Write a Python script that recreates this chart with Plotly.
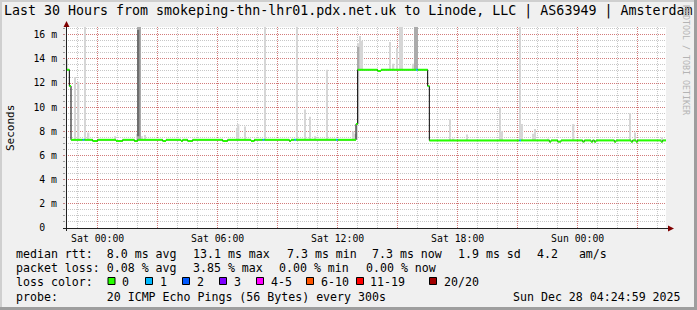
import plotly.graph_objects as go
from datetime import datetime, timedelta

FMT = "%Y-%m-%d %H:%M"
START = "2025-12-26 22:25"
END = "2025-12-28 04:25"
STEP_MIN = 5

# ---- median RTT (ms): each value holds from its time until the next entry
MEDIAN_TIME = [
    "2025-12-26 22:25", "2025-12-26 22:35", "2025-12-26 22:40", "2025-12-26 23:45",
    "2025-12-27 00:00", "2025-12-27 00:55", "2025-12-27 01:15", "2025-12-27 01:50",
    "2025-12-27 02:00", "2025-12-27 03:15", "2025-12-27 03:25", "2025-12-27 04:10",
    "2025-12-27 04:15", "2025-12-27 04:30", "2025-12-27 04:45", "2025-12-27 06:15",
    "2025-12-27 06:30", "2025-12-27 07:40", "2025-12-27 07:50", "2025-12-27 09:35",
    "2025-12-27 09:40", "2025-12-27 12:55", "2025-12-27 13:00", "2025-12-27 14:00",
    "2025-12-27 14:10", "2025-12-27 16:30", "2025-12-27 16:35", "2025-12-27 22:35",
    "2025-12-27 22:40", "2025-12-27 23:00", "2025-12-27 23:10", "2025-12-28 00:15",
    "2025-12-28 00:20", "2025-12-28 00:40", "2025-12-28 00:45", "2025-12-28 00:50",
    "2025-12-28 00:55", "2025-12-28 01:50", "2025-12-28 01:55", "2025-12-28 02:40",
    "2025-12-28 02:45", "2025-12-28 02:55", "2025-12-28 03:00", "2025-12-28 04:10",
    "2025-12-28 04:15",
]
MEDIAN_MS = [
    13.1, 11.75, 7.3, 7.2,
    7.3, 7.2, 7.3, 7.2,
    7.3, 7.2, 7.3, 7.2,
    7.3, 7.2, 7.3, 7.2,
    7.3, 7.2, 7.3, 7.2,
    7.3, 8.6, 13.1, 13.0,
    13.1, 11.75, 7.25, 7.15,
    7.25, 7.15, 7.25, 7.15,
    7.25, 7.15, 7.25, 7.15,
    7.25, 7.15, 7.25, 7.15,
    7.25, 7.15, 7.25, 7.15,
    7.25,
]

# ---- intervals with 1 of 20 pings lost
LOSS1_TIME = ["2025-12-26 23:15", "2025-12-27 08:15", "2025-12-27 09:50",
              "2025-12-27 11:55", "2025-12-27 15:55", "2025-12-27 21:05"]

# ---- smoke (ping spread) per interval
SMOKE_TIME = [
    "2025-12-26 22:25", "2025-12-26 22:50", "2025-12-26 23:00", "2025-12-26 23:20",
    "2025-12-26 23:30", "2025-12-27 00:50", "2025-12-27 01:55", "2025-12-27 02:00",
    "2025-12-27 02:00", "2025-12-27 02:05", "2025-12-27 02:10", "2025-12-27 02:20",
    "2025-12-27 06:55", "2025-12-27 07:00", "2025-12-27 07:20", "2025-12-27 08:20",
    "2025-12-27 09:55", "2025-12-27 10:20", "2025-12-27 10:35", "2025-12-27 10:50",
    "2025-12-27 11:25", "2025-12-27 12:45", "2025-12-27 12:50", "2025-12-27 12:55",
    "2025-12-27 13:00", "2025-12-27 13:00", "2025-12-27 13:05", "2025-12-27 13:10",
    "2025-12-27 14:35", "2025-12-27 14:45", "2025-12-27 14:55", "2025-12-27 15:05",
    "2025-12-27 15:10", "2025-12-27 15:45", "2025-12-27 15:50", "2025-12-27 15:55",
    "2025-12-27 17:35", "2025-12-27 17:45", "2025-12-27 18:25", "2025-12-27 20:05",
    "2025-12-27 20:10", "2025-12-27 21:05", "2025-12-27 21:10", "2025-12-27 21:45",
    "2025-12-27 21:50", "2025-12-27 22:30", "2025-12-27 23:45", "2025-12-28 02:35",
    "2025-12-28 02:50", "2025-12-28 04:10",
]
SMOKE_LOW = [
    13.1, 7.3, 7.3, 7.3,
    7.3, 7.3, 7.3, 7.3,
    7.6, 7.3, 7.3, 7.3,
    7.3, 7.3, 7.3, 7.3,
    7.3, 7.3, 7.3, 7.3,
    7.3, 7.3, 7.3, 7.3,
    8.6, 13.1, 13.1, 13.1,
    13.1, 13.1, 13.1, 13.1,
    13.1, 13.1, 13.1, 13.1,
    7.25, 7.25, 7.25, 7.25,
    7.25, 7.25, 7.25, 7.25,
    7.25, 7.25, 7.25, 7.25,
    7.25, 7.25,
]
SMOKE_HIGH = [
    14.0, 12.5, 12.1, 17.0,
    7.9, 7.6, 7.8, 17.0,
    16.4, 17.0, 7.6, 7.7,
    8.3, 8.6, 8.4, 17.0,
    17.0, 9.8, 9.2, 7.6,
    13.1, 8.0, 7.8, 8.6,
    15.3, 15.0, 15.9, 15.5,
    15.4, 13.6, 14.9, 17.0,
    17.0, 13.6, 17.0, 17.0,
    9.0, 7.4, 7.75, 10.0,
    8.0, 17.0, 8.6, 7.8,
    8.2, 7.4, 8.6, 9.5,
    7.9, 7.5,
]
SMOKE_SHADE = [
    "L", "L", "L", "L",
    "L", "L", "L", "M",
    "D", "M", "L", "L",
    "L", "L", "L", "L",
    "L", "L", "L", "L",
    "L", "L", "L", "L",
    "L", "M", "L", "L",
    "L", "L", "L", "L",
    "L", "L", "M", "M",
    "L", "L", "L", "L",
    "L", "L", "L", "L",
    "L", "L", "L", "L",
    "L", "L",
]

Y_TICKS = [0, 2, 4, 6, 8, 10, 12, 14, 16]
Y_TICKTEXT = ["0\u00a0\u00a0", "2 m", "4 m", "6 m", "8 m", "10 m", "12 m", "14 m", "16 m"]
X_TICKVALS = ["2025-12-27 00:00", "2025-12-27 03:00", "2025-12-27 06:00", "2025-12-27 09:00",
              "2025-12-27 12:00", "2025-12-27 15:00", "2025-12-27 18:00", "2025-12-27 21:00",
              "2025-12-28 00:00", "2025-12-28 03:00"]
X_TICKTEXT = ["Sat 00:00", "", "Sat 06:00", "", "Sat 12:00", "", "Sat 18:00", "", "Sun 00:00", ""]

TITLE = "Last 30 Hours from smokeping-thn-lhr01.pdx.net.uk to Linode, LLC | AS63949 | Amsterdam"
LOSS_LABELS = ["0", "1", "2", "3", "4-5", "6-10", "11-19", "20/20"]
LOSS_COLORS = ["#26ff00", "#00b8ff", "#0059ff", "#7e00ff", "#ff00ff", "#ff5500", "#ff0000", "#a10000"]

SHADE_COLORS = {"L": "#d6d6d6", "M": "#ababab", "D": "#6e6e6e"}

# ---------------------------------------------------------------------------
W, H = 697, 310
PL, PT, PR, PB = 66, 27, 666, 228
MONO = "DejaVu Sans Mono"


def xp(px):
    return (px - PL) / (PR - PL)


def yp(py):
    return (PB - py) / (PB - PT)


def dt(s):
    return datetime.strptime(s, FMT)


start, end = dt(START), dt(END)
step = timedelta(minutes=STEP_MIN)
med_t = [dt(s) for s in MEDIAN_TIME]
loss1 = set(dt(s) for s in LOSS1_TIME)


def median_at(t):
    v = MEDIAN_MS[0]
    for ti, vi in zip(med_t, MEDIAN_MS):
        if ti <= t:
            v = vi
        else:
            break
    return v


slots = []
t = start
while t < end:
    slots.append(t)
    t += step

# colored horizontal median segments
seg = {LOSS_COLORS[0]: ([], []), LOSS_COLORS[1]: ([], [])}
runs = []
for t in slots:
    v = median_at(t)
    c = LOSS_COLORS[1] if t in loss1 else LOSS_COLORS[0]
    if runs and runs[-1][2] == v and runs[-1][3] == c:
        runs[-1][1] = t + step
    else:
        runs.append([t, t + step, v, c])
for a, b, v, c in runs:
    xs, ys = seg[c]
    xs += [a, b, None]
    ys += [v, v, None]

fig = go.Figure()

# smoke bars
for shade in ["L", "M", "D"]:
    xs, ys, bs = [], [], []
    for s, lo, hi, sh in zip(SMOKE_TIME, SMOKE_LOW, SMOKE_HIGH, SMOKE_SHADE):
        if sh == shade:
            xs.append(dt(s) + step / 2)
            bs.append(lo)
            ys.append(hi - lo)
    fig.add_trace(go.Bar(x=xs, y=ys, base=bs, width=STEP_MIN * 60000,
                         marker=dict(color=SHADE_COLORS[shade], line=dict(width=0)),
                         hoverinfo="skip"))

# black step line (vertical connectors)
fig.add_trace(go.Scatter(x=med_t + [end], y=MEDIAN_MS + [MEDIAN_MS[-1]], mode="lines",
                         line=dict(color="#000000", width=1, shape="hv"), hoverinfo="skip"))
for c in [LOSS_COLORS[0], LOSS_COLORS[1]]:
    xs, ys = seg[c]
    fig.add_trace(go.Scatter(x=xs, y=ys, mode="lines", line=dict(color=c, width=2),
                             connectgaps=False, hoverinfo="skip"))

MGRID = "rgba(222,48,48,0.5)"
GRID = "rgba(143,143,143,0.5)"
DASH = "1px,1px"

fig.update_layout(
    width=W, height=H,
    margin=dict(l=PL, r=W - PR, t=PT, b=H - PB, pad=0),
    paper_bgcolor="#f0f0f0", plot_bgcolor="#ffffff",
    showlegend=False, barmode="overlay",
    font=dict(family=MONO, color="#000000"),
    xaxis=dict(type="date", range=[start, end], tickmode="array",
               tickvals=X_TICKVALS, ticktext=X_TICKTEXT,
               showgrid=True, gridcolor=MGRID, griddash=DASH, gridwidth=1,
               minor=dict(dtick=3600000, tick0="2025-12-27 00:00", showgrid=True,
                          gridcolor=GRID, griddash=DASH, gridwidth=1),
               showline=False, zeroline=False, ticks="",
               tickfont=dict(family=MONO, size=9.8, color="#000000"),
               ticklabelstandoff=3, fixedrange=True),
    yaxis=dict(range=[0, 16.64], tickmode="array", tickvals=Y_TICKS, ticktext=Y_TICKTEXT,
               showgrid=True, gridcolor=MGRID, griddash=DASH, gridwidth=1,
               minor=dict(dtick=0.5, showgrid=True, gridcolor=GRID, griddash=DASH, gridwidth=1,
                          ticks="outside", ticklen=2, tickcolor="#9a9a9a"),
               showline=False, zeroline=False, ticks="outside", ticklen=2, tickcolor="#c08080",
               tickfont=dict(family=MONO, size=9.8, color="#000000"),
               ticklabelstandoff=4, fixedrange=True),
)

shapes = []
# outer 3D border
shapes.append(dict(type="rect", xref="paper", yref="paper", x0=xp(0), x1=xp(W), y0=yp(0), y1=yp(2),
                   fillcolor="#cfcfcf", line=dict(width=0), layer="above"))
shapes.append(dict(type="rect", xref="paper", yref="paper", x0=xp(0), x1=xp(2), y0=yp(0), y1=yp(H),
                   fillcolor="#cfcfcf", line=dict(width=0), layer="above"))
shapes.append(dict(type="rect", xref="paper", yref="paper", x0=xp(0), x1=xp(W), y0=yp(H - 3), y1=yp(H),
                   fillcolor="#9e9e9e", line=dict(width=0), layer="above"))
shapes.append(dict(type="rect", xref="paper", yref="paper", x0=xp(W - 3), x1=xp(W), y0=yp(0), y1=yp(H),
                   fillcolor="#9e9e9e", line=dict(width=0), layer="above"))
# axes
shapes.append(dict(type="line", xref="paper", yref="paper", x0=xp(63), x1=xp(669), y0=yp(228.5), y1=yp(228.5),
                   line=dict(color="#202020", width=1), layer="above"))
shapes.append(dict(type="line", xref="paper", yref="paper", x0=xp(66.5), x1=xp(66.5), y0=yp(231), y1=yp(25),
                   line=dict(color="#202020", width=1), layer="above"))
# arrows
shapes.append(dict(type="path", xref="paper", yref="paper",
                   path="M %f,%f L %f,%f L %f,%f Z" % (xp(63.5), yp(27), xp(69.5), yp(27), xp(66.5), yp(21)),
                   fillcolor="#7f0000", line=dict(width=0), layer="above"))
shapes.append(dict(type="path", xref="paper", yref="paper",
                   path="M %f,%f L %f,%f L %f,%f Z" % (xp(668), yp(225.5), xp(668), yp(231.5), xp(674), yp(228.5)),
                   fillcolor="#7f0000", line=dict(width=0), layer="above"))

annotations = []


def text(px, py, s, size=11.6, anchor="left", color="#000000", angle=0):
    annotations.append(dict(xref="paper", yref="paper", x=xp(px), y=yp(py), text=s.replace(" ", "\u00a0"),
                            showarrow=False, xanchor=anchor, yanchor="middle", textangle=angle,
                            font=dict(family=MONO, size=size, color=color),
                            borderpad=0, borderwidth=0))


text(3.5, 10.5, TITLE, size=13.3)
text(10, 128, "Seconds", size=11, anchor="center", angle=-90)
text(686, 60, "RRDTOOL / TOBI OETIKER", size=8.3, anchor="center", color="#b4b4b4", angle=90)

text(15.5, 254, "median rtt:  8.0 ms avg")
text(193, 254, "13.1 ms max")
text(286.5, 254, "7.3 ms min")
text(371.5, 254, "7.3 ms now")
text(457.5, 254, "1.9 ms sd")
text(536.5, 254, "4.2   am/s")

text(15.5, 268, "packet loss: 0.08 % avg")
text(192.5, 268, "3.85 % max")
text(278.5, 268, "0.00 % min")
text(365.5, 268, "0.00 % now")

text(15.5, 282, "loss color:")
BOX_X = [108, 145.5, 182.5, 219.5, 256.5, 306.5, 356.5, 429.5]
for bx, lab, col in zip(BOX_X, LOSS_LABELS, LOSS_COLORS):
    shapes.append(dict(type="rect", xref="paper", yref="paper", x0=xp(bx), x1=xp(bx + 7),
                       y0=yp(277.5), y1=yp(284.5), fillcolor=col,
                       line=dict(color="#000000", width=1), layer="above"))
    text(bx + 14, 282, lab)

text(15.5, 296.5, "probe:       20 ICMP Echo Pings (56 Bytes) every 300s")
text(681, 296.5, "Sun Dec 28 04:24:59 2025", anchor="right")

fig.update_layout(shapes=shapes, annotations=annotations)
fig.write_html("out.html")
